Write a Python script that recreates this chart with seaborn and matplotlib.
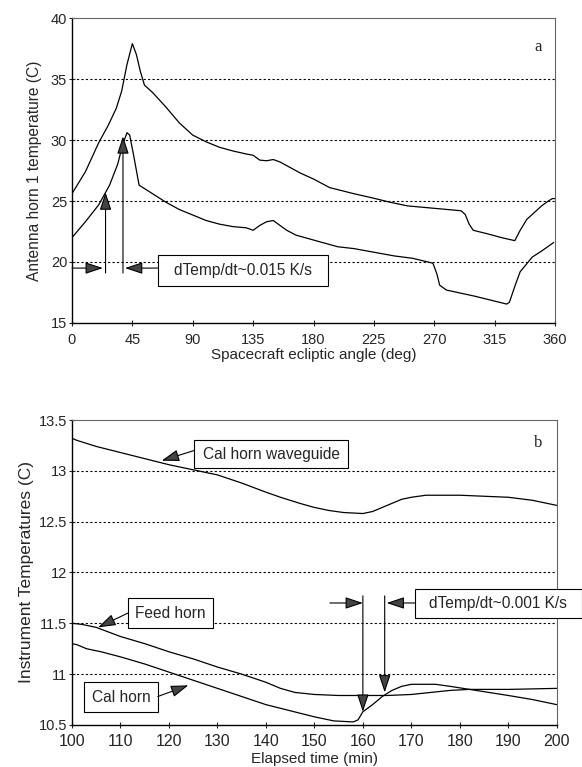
import matplotlib
matplotlib.use("Agg")
import matplotlib.pyplot as plt
from matplotlib.patches import Rectangle
from matplotlib.ticker import FuncFormatter
import numpy as np
import pandas as pd
import seaborn as sns

# panel a: antenna horn temperature vs ecliptic angle
ang_upper = [0, 5, 10, 15, 20, 27, 33, 37, 41, 45, 48, 51, 54, 60, 70, 80, 90, 100, 110, 120,
             130, 135, 140, 145, 150, 155, 160, 170, 180, 192, 210, 224, 237, 250, 270, 290,
             293, 296, 299, 310, 320, 330, 334, 339, 344, 350, 355, 358, 360]
temp_upper = [25.6, 26.5, 27.4, 28.6, 29.8, 31.2, 32.6, 34.0, 36.2, 37.9, 37.0, 35.6, 34.5, 33.9,
              32.7, 31.4, 30.4, 29.85, 29.4, 29.1, 28.85, 28.75, 28.35, 28.3, 28.4, 28.2, 27.9,
              27.3, 26.8, 26.1, 25.6, 25.25, 24.9, 24.6, 24.4, 24.2, 23.9, 23.1, 22.6, 22.3,
              22.0, 21.75, 22.6, 23.5, 24.0, 24.6, 25.0, 25.2, 25.2]
ang_lower = [0, 10, 20, 28, 34, 38, 41, 43, 46, 50, 60, 70, 80, 90, 100, 110, 120, 130, 135,
             140, 145, 150, 155, 160, 167, 180, 198, 210, 225, 240, 254, 269, 272, 274, 279,
             300, 324, 326, 330, 334, 340, 343, 350, 359]
temp_lower = [22.0, 23.3, 24.7, 26.3, 28.0, 29.7, 30.6, 30.4, 28.7, 26.3, 25.6, 24.9, 24.3, 23.85,
              23.4, 23.1, 22.9, 22.8, 22.6, 23.0, 23.3, 23.4, 23.0, 22.6, 22.2, 21.8, 21.25,
              21.1, 20.8, 20.5, 20.3, 19.9, 19.0, 18.1, 17.7, 17.2, 16.55, 16.7, 18.0, 19.2,
              20.0, 20.4, 20.9, 21.6]

# panel b: instrument temperatures vs elapsed time
t_wg = [100, 101, 105, 110, 115, 120, 125, 130, 135, 140, 143, 147, 150, 153, 156, 160, 162,
        164, 166, 168, 170, 173, 177, 180, 185, 190, 195, 200]
temp_wg = [13.32, 13.30, 13.24, 13.18, 13.12, 13.06, 13.01, 12.96, 12.88, 12.79, 12.74, 12.68,
           12.64, 12.61, 12.59, 12.58, 12.60, 12.64, 12.68, 12.72, 12.74, 12.76, 12.76, 12.76,
           12.75, 12.74, 12.71, 12.66]
t_feed = [100, 102, 105, 110, 115, 120, 125, 130, 135, 140, 143, 146, 150, 155, 160, 165, 170,
          174, 178, 182, 190, 200]
temp_feed = [11.50, 11.49, 11.46, 11.37, 11.30, 11.22, 11.15, 11.07, 11.00, 10.92, 10.86, 10.82,
             10.80, 10.79, 10.79, 10.79, 10.80, 10.82, 10.84, 10.85, 10.85, 10.86]
t_cal = [100, 101, 103, 106, 110, 115, 120, 125, 130, 135, 140, 145, 150, 154, 158, 159, 160,
         162, 164, 166, 168, 170, 175, 178, 182, 186, 190, 195, 200]
temp_cal = [11.30, 11.29, 11.25, 11.22, 11.17, 11.10, 11.02, 10.94, 10.86, 10.78, 10.70, 10.64,
            10.58, 10.54, 10.53, 10.55, 10.63, 10.70, 10.78, 10.84, 10.88, 10.90, 10.90, 10.88,
            10.85, 10.82, 10.79, 10.75, 10.70]

sns.set_style("ticks")
plt.rcParams['font.family'] = ['Liberation Sans', 'DejaVu Sans']

fig = plt.figure(figsize=(5.82, 7.67), dpi=100)
ax1 = fig.add_axes([0.1237, 0.5789, 0.830, 0.3976])
ax2 = fig.add_axes([0.1237, 0.0548, 0.833, 0.3976])

lw = 0.9
sns.lineplot(x=ang_upper, y=temp_upper, ax=ax1, color='black', lw=lw)
sns.lineplot(x=ang_lower, y=temp_lower, ax=ax1, color='black', lw=lw)
sns.lineplot(x=t_wg, y=temp_wg, ax=ax2, color='black', lw=lw)
sns.lineplot(x=t_feed, y=temp_feed, ax=ax2, color='black', lw=lw)
sns.lineplot(x=t_cal, y=temp_cal, ax=ax2, color='black', lw=lw)


def style_axes(ax, xticks, yticks, xfs, yfs, xpad):
    ax.set_xlim(xticks[0], xticks[-1])
    ax.set_ylim(yticks[0], yticks[-1])
    ax.set_xticks(xticks)
    ax.set_yticks(yticks)
    ax.yaxis.set_major_formatter(FuncFormatter(lambda v, p: f"{v:g}"))
    ax.tick_params(axis='x', labelsize=xfs, direction='inout', length=4, width=0.8, pad=xpad)
    ax.tick_params(axis='y', labelsize=yfs, direction='inout', length=5, width=0.8, pad=1)
    for y in yticks[1:-1]:
        ax.axhline(y, color='black', lw=0.8, ls=(0, (2, 2)), zorder=0)
    for s in ['left', 'bottom']:
        ax.spines[s].set_color('black')
        ax.spines[s].set_linewidth(1.0)
    for s in ['top', 'right']:
        ax.spines[s].set_color('#666666')
        ax.spines[s].set_linewidth(0.8)


style_axes(ax1, np.arange(0, 361, 45), np.arange(15, 41, 5), 10.5, 10.5, 5)
style_axes(ax2, np.arange(100, 201, 10), np.arange(10.5, 13.51, 0.5), 11.5, 10.5, 4.5)

ax1.set_xlabel("Spacecraft ecliptic angle (deg)", fontsize=11, labelpad=1)
ax1.set_ylabel("Antenna horn 1 temperature (C)", fontsize=11.2, labelpad=6)
ax2.set_xlabel("Elapsed time (min)", fontsize=11, labelpad=2)
ax2.set_ylabel("Instrument Temperatures (C)", fontsize=12.5, labelpad=3)

ax1.text(0.965, 0.905, "a", transform=ax1.transAxes, fontsize=12,
         family='Liberation Serif', ha='center', va='center')
ax2.text(0.961, 0.925, "b", transform=ax2.transAxes, fontsize=12,
         family='Liberation Serif', ha='center', va='center')

arrow = dict(arrowstyle="-|>,head_length=0.9,head_width=0.3", mutation_scale=12,
             fc='#444444', ec='black', lw=0.8, shrinkA=0, shrinkB=0)


def arr(ax, start, end):
    ax.annotate("", xy=end, xytext=start, arrowprops=arrow, annotation_clip=False)


def box(ax, x0, y0, x1, y1, label, fs=11.2):
    ax.add_patch(Rectangle((x0, y0), x1 - x0, y1 - y0, fc='white', ec='black',
                           lw=0.8, clip_on=False, zorder=3))
    ax.text((x0 + x1) / 2, (y0 + y1) / 2, label, fontsize=fs, ha='center',
            va='center', zorder=4)


# panel a annotations
box(ax1, 64, 18.03, 190.8, 20.57, "dTemp/dt~0.015 K/s")
arr(ax1, (0, 19.5), (23, 19.5))
arr(ax1, (25, 19.1), (25, 25.7))
arr(ax1, (38, 19.1), (38, 30.3))
arr(ax1, (64, 19.5), (39.5, 19.5))

# panel b annotations
box(ax2, 125.2, 13.03, 156.9, 13.30, "Cal horn waveguide")
arr(ax2, (125.2, 13.2), (118.5, 13.1))
box(ax2, 111.5, 11.45, 129.1, 11.75, "Feed horn")
arr(ax2, (111.5, 11.6), (105.4, 11.46))
box(ax2, 102.5, 10.63, 117.7, 10.92, "Cal horn")
arr(ax2, (117.7, 10.78), (124.0, 10.89))
box(ax2, 170.7, 11.55, 205.2, 11.84, "dTemp/dt~0.001 K/s")
arr(ax2, (153.2, 11.7), (160, 11.7))
arr(ax2, (160, 11.77), (160, 10.63))
arr(ax2, (164.5, 11.77), (164.5, 10.82))
arr(ax2, (170.7, 11.7), (164.9, 11.7))

fig.savefig("out.png", dpi=100)
